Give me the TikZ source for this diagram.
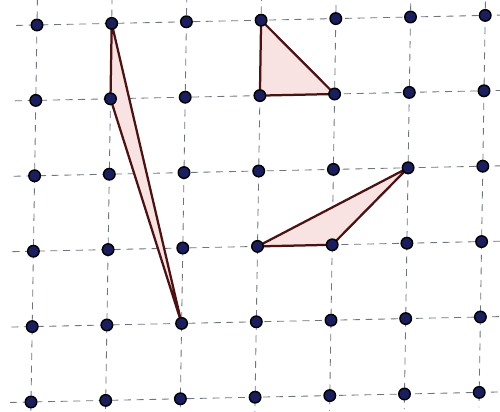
\documentclass[tikz,border=0pt]{standalone}
\usetikzlibrary{calc}
\usepackage{xcolor}
\definecolor{navy}{HTML}{1A1E5C}
\definecolor{wine}{HTML}{4A1212}
\definecolor{blush}{HTML}{F8E2E2}
\definecolor{rule}{HTML}{6F747E}

\begin{document}
\begin{tikzpicture}[
    x=0.025cm, y=-0.025cm,
    grid/.style={rule, line width=0.6pt, dash pattern=on 5pt off 4pt},
    dot/.style={circle, fill=navy, draw=black, line width=1pt, minimum size=8.2pt, inner sep=0pt},
    tri/.style={draw=wine, fill=blush, line width=1.6pt, line join=round}
  ]
    \useasboundingbox (0,0) rectangle (500,412);

    % Grid points (slightly tilted, like the photo)
    \foreach \i in {0,...,6}
      \foreach \j in {0,...,5}
        \coordinate (p-\i-\j) at (37+74.7*\i-1.2*\j, 25+75.4*\j-1.6*\i);

    % Dashed lines
    \foreach \j in {0,...,5}
      \draw[grid] (37-74.7*0.28-1.2*\j, 25+75.4*\j+1.6*0.28) -- (37+74.7*6.3-1.2*\j, 25+75.4*\j-1.6*6.3);
    \foreach \i in {0,...,6}
      \draw[grid] (37+74.7*\i+1.2*0.35, 25-75.4*0.35-1.6*\i) -- (37+74.7*\i-1.2*5.2, 25+75.4*5.2-1.6*\i);

    % Triangles
    \draw[tri] (p-1-0) -- (p-1-1) -- (p-2-4) -- cycle;
    \draw[tri] (p-3-0) -- (p-3-1) -- (p-4-1) -- cycle;
    \draw[tri] (p-3-3) -- (p-4-3) -- (p-5-2) -- cycle;

    % Dots
    \foreach \i in {0,...,6}
      \foreach \j in {0,...,5}
        \node[dot] (d-\i-\j) at (p-\i-\j) {};
  \end{tikzpicture}
\end{document}
